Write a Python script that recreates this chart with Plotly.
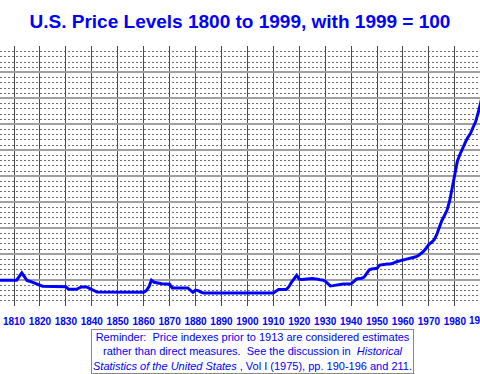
import plotly.graph_objects as go

years = [1800, 1801, 1802, 1803, 1805, 1811, 1813, 1815, 1816, 1818, 1819, 1821,
         1830, 1831, 1834, 1836, 1838, 1840, 1842, 1860, 1861, 1862, 1863, 1864,
         1865, 1867, 1870, 1871, 1877, 1878, 1879, 1880, 1881, 1882, 1883, 1910,
         1911, 1912, 1915, 1916, 1917, 1918, 1919, 1920, 1921, 1925, 1926, 1927,
         1928, 1929, 1930, 1931, 1932, 1933, 1934, 1935, 1936, 1937, 1938, 1939,
         1940, 1941, 1942, 1943, 1944, 1945, 1946, 1947, 1948, 1949, 1950, 1951,
         1952, 1953, 1954, 1955, 1956, 1957, 1958, 1959, 1960, 1961, 1962, 1963,
         1964, 1965, 1966, 1967, 1968, 1969, 1970, 1971, 1972, 1973, 1974, 1975,
         1976, 1977, 1978, 1979, 1980, 1981, 1982, 1983, 1984, 1985, 1986, 1987,
         1988, 1989, 1990, 1991, 1992, 1993, 1994, 1995, 1996, 1997, 1998, 1999]
price_level = [9.4, 9.6, 9.0, 9.7, 10.0, 10.0, 12.8, 9.9, 9.6, 8.9, 8.5, 7.7,
               7.5, 6.5, 6.5, 7.4, 7.4, 6.4, 5.4, 5.3, 6.0, 7.4, 10.0, 9.2,
               9.0, 8.6, 8.4, 7.0, 7.0, 6.2, 5.3, 6.2, 6.0, 5.4, 5.1, 5.1,
               5.8, 6.4, 6.4, 7.5, 9.2, 10.8, 11.9, 10.4, 10.3, 10.6, 10.6, 10.4,
               10.2, 10.1, 9.6, 8.6, 7.8, 7.9, 8.1, 8.3, 8.4, 8.5, 8.5, 8.5,
               8.6, 9.4, 10.4, 10.6, 10.7, 11.2, 12.5, 14.0, 14.3, 14.4, 14.6, 15.8,
               16.0, 16.1, 16.2, 16.2, 16.4, 16.9, 17.3, 17.5, 17.8, 18.0, 18.2, 18.4,
               18.6, 19.0, 19.5, 20.2, 21.2, 22.4, 23.8, 24.6, 25.5, 27.5, 30.5, 33.0,
               34.9, 37.0, 40.5, 46.0, 51.5, 55.9, 58.5, 61.0, 63.0, 65.0, 66.5, 68.8,
               71.0, 74.5, 78.5, 82.5, 85.0, 87.5, 89.5, 92.0, 94.5, 96.5, 98.0, 100.0]

x_range = [1804.6, 1989.7]
edge_tick = 1990  # decade label that sits on the right edge, half outside the page

title_text = "U.S. Price Levels 1800 to 1999, with 1999 = 100"
note_text = ("Reminder:  Price indexes prior to 1913 are considered estimates<br>"
             "rather than direct measures.  See the discussion in  <i>Historical</i><br>"
             "<i>Statistics of the United States</i> , Vol I (1975), pp. 190-196 and 211.")

BLUE = "#0000ff"
FONT = "Liberation Sans, Arial, sans-serif"

fig = go.Figure()
fig.add_trace(go.Scatter(x=years, y=price_level, mode="lines",
                         line=dict(color=BLUE, width=3), hoverinfo="skip",
                         showlegend=False))

edge_x = (edge_tick - x_range[0]) / (x_range[1] - x_range[0])

fig.update_layout(
    width=480, height=374,
    margin=dict(l=0, r=0, t=46, b=68, pad=0, autoexpand=False),
    paper_bgcolor="white", plot_bgcolor="white",
    title=dict(text=title_text, x=0.5, xanchor="center", y=1 - 21 / 374,
               yanchor="middle", yref="container",
               font=dict(family=FONT, size=19, color=BLUE, weight="bold")),
    xaxis=dict(range=x_range, tick0=1800, dtick=10, automargin=False,
               showgrid=True, gridcolor="#4a4a4a", gridwidth=1,
               zeroline=False, showline=False,
               ticks="outside", ticklen=6, tickcolor="rgba(0,0,0,0)",
               tickfont=dict(family=FONT, size=10, color=BLUE, weight="bold")),
    yaxis=dict(range=[0.05, 100.2], tick0=0, dtick=10, automargin=False,
               showgrid=True, gridcolor="#a0a0a0", gridwidth=2,
               zeroline=False, showline=False, showticklabels=False, ticks="",
               minor=dict(dtick=2, tick0=0, showgrid=True, gridcolor="#707070",
                          gridwidth=1, griddash="2px,2px")),
    annotations=[
        dict(text=note_text, xref="paper", yref="paper",
             x=252 / 480, y=(306 - 351.5) / 260,
             xanchor="center", yanchor="middle", showarrow=False,
             align="center", bordercolor="#888888", borderwidth=1,
             borderpad=1, bgcolor="white",
             font=dict(family=FONT, size=11, color=BLUE)),
        dict(text=str(edge_tick), xref="paper", yref="paper",
             x=edge_x, y=(306 - 320.5) / 260, xanchor="center", yanchor="middle",
             showarrow=False,
             font=dict(family=FONT, size=10, color=BLUE, weight="bold")),
    ],
)

fig.write_html("out.html", config={"displayModeBar": False},
               post_script="document.body.style.margin='0';"
                           "document.body.style.overflow='hidden';")
